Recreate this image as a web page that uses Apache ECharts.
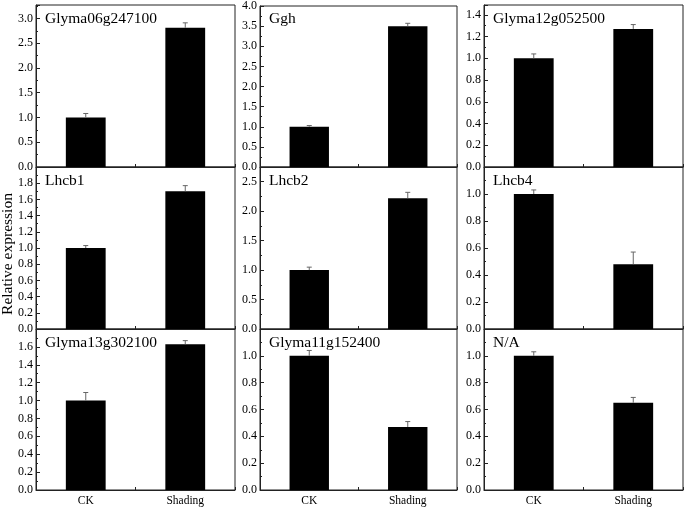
<!DOCTYPE html>
<html>
<head>
<meta charset="utf-8">
<script src="https://cdn.jsdelivr.net/npm/echarts@6/dist/echarts.min.js"></script>
<style>
html,body{margin:0;padding:0;background:#fff;}
#chart{width:685px;height:507px;}
</style>
</head>
<body>
<div id="chart"></div>
<script>
const categories = ['CK', 'Shading'];
const genes = ['Glyma06g247100', 'Ggh', 'Glyma12g052500', 'Lhcb1', 'Lhcb2', 'Lhcb4', 'Glyma13g302100', 'Glyma11g152400', 'N/A'];
const ckMean = [1.0, 1.0, 1.0, 1.0, 1.0, 1.0, 1.0, 1.0, 1.0];
const ckErr = [0.08, 0.03, 0.04, 0.03, 0.05, 0.03, 0.09, 0.04, 0.03];
const shadingMean = [2.81, 3.50, 1.27, 1.70, 2.22, 0.48, 1.63, 0.47, 0.65];
const shadingErr = [0.10, 0.07, 0.04, 0.07, 0.10, 0.09, 0.04, 0.04, 0.04];
const yMax = [3.27, 4.0, 1.49, 2.0, 2.75, 1.2, 1.8, 1.2, 1.2];
const yInterval = [0.5, 0.5, 0.2, 0.2, 0.5, 0.2, 0.2, 0.2, 0.2];
const showTopLabel = [false, true, false, false, false, false, false, false, false];
const yAxisTitle = 'Relative expression';

const FONT = 'Liberation Serif';
const colLeft = [36, 260, 484];
const colWidth = [199, 197, 199];
const rowTop = [5, 167, 329];
const rowHeight = [162, 162, 163];

const grids = [], xAxes = [], yAxes = [], series = [], titles = [];
genes.forEach((g, i) => {
  const r = Math.floor(i / 3), c = i % 3;
  grids.push({
    left: colLeft[c], top: rowTop[r], width: colWidth[c], height: rowHeight[r],
    show: true, borderColor: '#222', borderWidth: 1, backgroundColor: 'transparent'
  });
  xAxes.push({
    type: 'category', gridIndex: i, data: categories,
    axisLine: { lineStyle: { color: '#222', width: 1 } },
    axisTick: { show: true, inside: true, length: 3, lineStyle: { color: '#222' } },
    axisLabel: { show: r === 2, color: '#000', fontFamily: FONT, fontSize: 11.5, margin: 5 },
    splitLine: { show: false }
  });
  yAxes.push({
    type: 'value', gridIndex: i, min: 0, max: yMax[i], interval: yInterval[i],
    axisLine: { show: true, lineStyle: { color: '#222', width: 1 } },
    axisTick: { show: true, inside: true, length: 4, lineStyle: { color: '#222' } },
    minorTick: { show: true, splitNumber: 2, length: 2, lineStyle: { color: '#222' } },
    axisLabel: {
      color: '#000', fontFamily: FONT, fontSize: 12, margin: 3,
      showMaxLabel: showTopLabel[i],
      formatter: v => v.toFixed(1)
    },
    splitLine: { show: false }
  });
  series.push({
    type: 'bar', xAxisIndex: i, yAxisIndex: i, barWidth: '40%',
    itemStyle: { color: '#000' },
    data: [ckMean[i], shadingMean[i]],
    z: 2
  });
  series.push({
    type: 'custom', xAxisIndex: i, yAxisIndex: i, z: 3,
    data: [[0, ckMean[i], ckErr[i]], [1, shadingMean[i], shadingErr[i]]],
    renderItem: (params, api) => {
      const x = api.value(0), m = api.value(1), e = api.value(2);
      const p0 = api.coord([x, m]);
      const p1 = api.coord([x, m + e]);
      const style = { stroke: '#666', lineWidth: 1 };
      return {
        type: 'group',
        children: [
          { type: 'line', shape: { x1: p0[0], y1: p0[1], x2: p1[0], y2: p1[1] }, style },
          { type: 'line', shape: { x1: p1[0] - 2.5, y1: p1[1], x2: p1[0] + 2.5, y2: p1[1] }, style }
        ]
      };
    }
  });
  titles.push({
    text: g, left: colLeft[c] + 9, top: rowTop[r] + 6, padding: 0,
    textStyle: { fontFamily: FONT, fontSize: 15.5, fontWeight: 'normal', color: '#000' }
  });
});

const chart = echarts.init(document.getElementById('chart'), null, { renderer: 'canvas' });
chart.setOption({
  animation: false,
  backgroundColor: '#fff',
  title: titles,
  grid: grids,
  xAxis: xAxes,
  yAxis: yAxes,
  series: series,
  graphic: [{
    type: 'text', x: 8, y: 254, rotation: Math.PI / 2,
    style: { text: yAxisTitle, fontFamily: FONT, fontSize: 15.5, fill: '#000', align: 'center', verticalAlign: 'middle' }
  }]
});
</script>
</body>
</html>
